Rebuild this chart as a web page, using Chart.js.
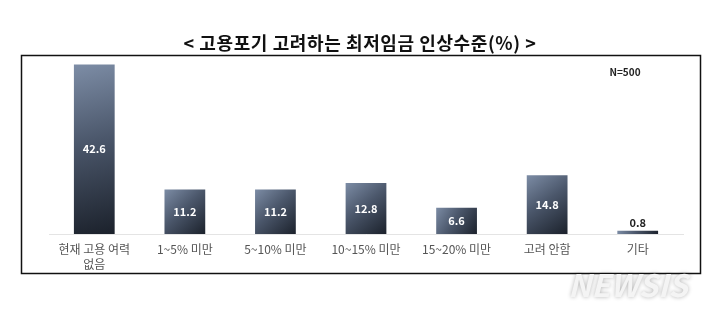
<!DOCTYPE html>
<html>
<head>
<meta charset="utf-8">
<script src="https://cdn.jsdelivr.net/npm/chart.js@4.4.0/dist/chart.umd.min.js"></script>
<style>
    html, body { margin: 0; padding: 0; background: #fff; }
    canvas { display: block; }
</style>
</head>
<body>
<canvas id="myChart" width="720" height="312"></canvas>
<script>
const categories = [['현재 고용 여력', '없음'], '1~5% 미만', '5~10% 미만', '10~15% 미만', '15~20% 미만', '고려 안함', '기타'];
const values = [42.6, 11.2, 11.2, 12.8, 6.6, 14.8, 0.8];
const chartTitle = '< 고용포기 고려하는 최저임금 인상수준(%) >';
const sampleNote = 'N=500';
const watermark = 'NEWSIS';

const FONT = '"Noto Sans CJK KR", "Noto Sans", sans-serif';

// bar fill: light slate at top-left fading to near black at bottom-right
function barFill(c) {
    const chart = c.chart;
    const xs = chart.scales.x, ys = chart.scales.y;
    if (!xs || !ys || !chart.chartArea) return '#3a4455';
    const x = xs.getPixelForValue(c.dataIndex);
    const top = ys.getPixelForValue(values[c.dataIndex]);
    const bottom = ys.getPixelForValue(0);
    const g = chart.ctx.createLinearGradient(x - 21, top, x + 21, bottom);
    g.addColorStop(0, '#7d8da6');
    g.addColorStop(0.45, '#4b576b');
    g.addColorStop(1, '#1b212b');
    return g;
}

const framePlugin = {
    id: 'frame',
    beforeDraw(chart) {
        const ctx = chart.ctx;
        ctx.save();
        ctx.fillStyle = '#fff';
        ctx.fillRect(0, 0, chart.width, chart.height);
        ctx.restore();
    },
    afterDraw(chart) {
        const ctx = chart.ctx;
        ctx.save();
        // outer box
        ctx.strokeStyle = '#111';
        ctx.lineWidth = 1.5;
        ctx.strokeRect(21.5, 55.5, 679, 218);

        // title
        ctx.fillStyle = '#111';
        ctx.font = 'bold 18px ' + FONT;
        ctx.letterSpacing = '0.6px';
        ctx.textAlign = 'center';
        ctx.textBaseline = 'middle';
        ctx.fillText(chartTitle, 360, 43);
        ctx.letterSpacing = '0px';

        // sample size
        ctx.font = 'bold 10px ' + FONT;
        ctx.fillStyle = '#222';
        ctx.fillText(sampleNote, 625, 72);

        // watermark
        ctx.font = 'italic bold 31px ' + FONT;
        ctx.textAlign = 'left';
        ctx.shadowColor = 'rgba(0,0,0,0.3)';
        ctx.shadowBlur = 4;
        ctx.fillStyle = '#f4f4f4';
        ctx.fillText(watermark, 568, 285);
        ctx.restore();
    }
};

const valueLabels = {
    id: 'valueLabels',
    afterDatasetsDraw(chart) {
        const ctx = chart.ctx;
        const meta = chart.getDatasetMeta(0);
        ctx.save();
        ctx.font = 'bold 11px ' + FONT;
        ctx.textAlign = 'center';
        ctx.textBaseline = 'middle';
        meta.data.forEach((bar, i) => {
            const v = values[i];
            if (bar.base - bar.y < 20) {
                ctx.fillStyle = '#222';
                ctx.fillText(v.toFixed(1), bar.x, bar.y - 8);
            } else {
                ctx.fillStyle = '#fff';
                ctx.fillText(v.toFixed(1), bar.x, (bar.y + bar.base) / 2);
            }
        });
        ctx.restore();
    }
};

const ctx = document.getElementById('myChart').getContext('2d');
const chart = new Chart(ctx, {
    type: 'bar',
    data: {
        labels: categories,
        datasets: [{
            data: values,
            backgroundColor: barFill,
            borderWidth: 0,
            barPercentage: 0.9,
            categoryPercentage: 0.5
        }]
    },
    options: {
        responsive: false,
        animation: false,
        devicePixelRatio: 1,
        layout: {
            padding: { left: 49, right: 37, top: 59, bottom: 40 }
        },
        plugins: {
            legend: { display: false },
            title: { display: false },
            tooltip: { enabled: false }
        },
        scales: {
            x: {
                grid: { display: false },
                border: { display: true, color: '#e4e4e4', width: 1 },
                ticks: {
                    color: '#555',
                    padding: 0,
                    maxRotation: 0,
                    autoSkip: false,
                    font: { family: FONT, size: 12, lineHeight: 1.25 }
                }
            },
            y: {
                display: false,
                min: 0,
                max: 44
            }
        }
    },
    plugins: [framePlugin, valueLabels]
});
</script>
</body>
</html>
